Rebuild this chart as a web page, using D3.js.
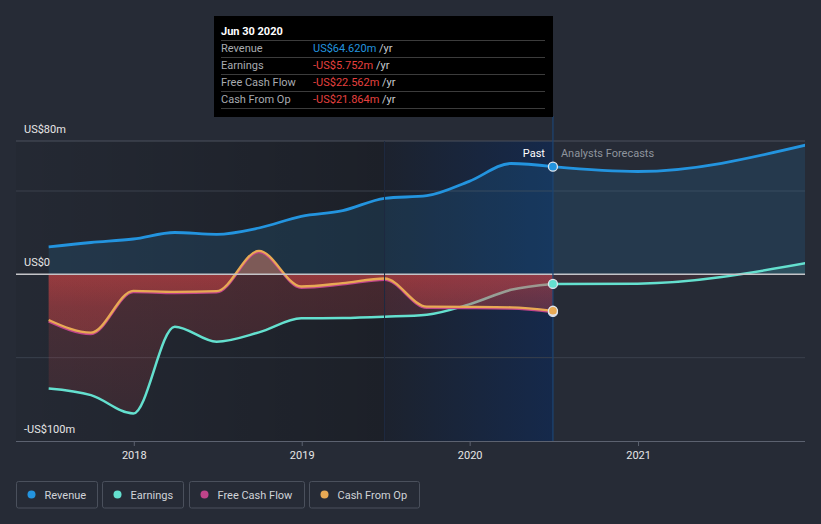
<!DOCTYPE html>
<html><head><meta charset="utf-8">
<script src="https://cdn.jsdelivr.net/npm/d3@7"></script>
<style>
html,body{margin:0;padding:0;background:#262b36;}
svg{display:block;font-family:Roboto,"Noto Sans",sans-serif;}
</style></head>
<body>
<svg id="chart" width="821" height="524"></svg>
<script>
// ---------- DATA ----------
const pastDates = ["2017-06-30","2017-09-30","2017-12-31","2018-03-31","2018-06-30","2018-09-30","2018-12-31","2019-03-31","2019-06-30","2019-09-30","2019-12-31","2020-03-31","2020-06-30"];
const revenuePast  = [16.4, 19.1, 21.2, 25.1, 24.0, 27.8, 34.8, 38.2, 45.6, 47.2, 55.8, 66.5, 64.62];
const earningsPast = [-68.5, -72.5, -83.5, -31.4, -40.4, -34.8, -26.4, -26.2, -25.4, -24.2, -18.0, -9.3, -5.752];
const fcfPast      = [-28.2, -35.8, -10.6, -11.2, -10.8, 13.4, -8.0, -6.0, -3.2, -20.1, -20.2, -20.5, -22.562];
const cfoPast      = [-27.4, -35.0, -9.9, -10.5, -10.1, 14.1, -7.3, -5.3, -2.5, -19.4, -19.5, -19.8, -21.864];
const forecastDates    = ["2020-06-30","2020-12-31","2021-12-31"];
const revenueForecast  = [64.62, 61.7, 77.5];
const earningsForecast = [-5.752, -5.6, 6.7];
const yGridValues = [80, 50, -50];
const yLabelValues = [80, 0, -100];
const yLabelTexts = ["US$80m", "US$0", "-US$100m"];
const xTickYears = ["2018","2019","2020","2021"];
const seriesNames  = ["Revenue","Earnings","Free Cash Flow","Cash From Op"];
const seriesColors = ["#2394df","#64e0cf","#c0448a","#e8a954"];
const tooltipTitle = "Jun 30 2020";
const tooltipValues = ["US$64.620m","-US$5.752m","-US$22.562m","-US$21.864m"];
const pastStart = "2019-06-30", pastEnd = "2020-06-30";

// ---------- SETUP ----------
const parse = d3.timeParse("%Y-%m-%d");
const svg = d3.select("#chart");
const L = 16, R = 805, T = 141, B = 441;
const x = d3.scaleTime().domain([parse("2017-04-20"), parse("2022-01-01")]).range([16, 806]);
const y = d3.scaleLinear().domain([-100, 80]).range([B, T]);
const y0 = y(0);

const defs = svg.append("defs");
function linGrad(id, x1, y1, x2, y2, stops) {
  const g = defs.append("linearGradient").attr("id", id).attr("gradientUnits", "userSpaceOnUse")
    .attr("x1", x1).attr("y1", y1).attr("x2", x2).attr("y2", y2);
  stops.forEach(s => g.append("stop").attr("offset", s[0]).attr("stop-color", s[1]).attr("stop-opacity", s[2]));
}
const xPS = x(parse(pastStart)), xPE = x(parse(pastEnd));
linGrad("pastShade", L, 0, xPS, 0, [[0, "#000", 0.05], [1, "#000", 0.26]]);
linGrad("band", xPS, 0, xPE, 0, [[0, "#1c222e", 1], [1, "#15294b", 1]]);
linGrad("redE", 0, y0, 0, B, [[0, "rgb(221,70,71)", 0.22], [1, "rgb(221,70,71)", 0.10]]);
linGrad("redC", 0, y0, 0, B, [[0, "rgb(221,70,71)", 0.30], [0.2, "rgb(221,70,71)", 0.2], [1, "rgb(221,70,71)", 0.08]]);
linGrad("redF", 0, y0, 0, B, [[0, "rgb(221,70,71)", 0.12], [1, "rgb(221,70,71)", 0.05]]);
defs.append("clipPath").attr("id", "cPos").append("rect").attr("x", L).attr("y", 0).attr("width", R - L).attr("height", y0);
defs.append("clipPath").attr("id", "cNeg").append("rect").attr("x", L).attr("y", y0).attr("width", R - L).attr("height", 524 - y0);
defs.append("clipPath").attr("id", "cPlot").append("rect").attr("x", L).attr("y", 0).attr("width", R - L).attr("height", 524);

// backgrounds
svg.append("rect").attr("width", 821).attr("height", 524).attr("fill", "#262b36");
svg.append("rect").attr("x", L).attr("y", T).attr("width", xPS - L).attr("height", B - T).attr("fill", "url(#pastShade)");
svg.append("rect").attr("x", xPS).attr("y", T).attr("width", xPE - xPS).attr("height", B - T).attr("fill", "url(#band)");

// gridlines
svg.append("line").attr("x1", L).attr("x2", R).attr("y1", y(80)).attr("y2", y(80)).attr("stroke", "#4b505c").attr("stroke-width", 1);
yGridValues.slice(1).forEach(v => {
  svg.append("line").attr("x1", L).attr("x2", R).attr("y1", y(v)).attr("y2", y(v)).attr("stroke", "#3a404c").attr("stroke-width", 1);
});

// axis
const xAxis = d3.axisBottom(x).tickValues(xTickYears.map(s => parse(s + "-01-01"))).tickFormat(d3.timeFormat("%Y")).tickSize(5).tickPadding(5);
const gx = svg.append("g").attr("transform", `translate(0,${B})`).call(xAxis);
gx.select(".domain").attr("d", `M${L},0.5H${R}`).attr("stroke", "#5c6270");
gx.selectAll(".tick line").attr("stroke", "#5c6270");
gx.selectAll(".tick text").attr("fill", "#e6e6e6").attr("font-size", 11).attr("font-family", "Roboto,sans-serif");

const toPts = (dates, vals) => dates.map((d, i) => ({ d: parse(d), v: vals[i] }));
const revP = toPts(pastDates, revenuePast), earP = toPts(pastDates, earningsPast),
      fcfP = toPts(pastDates, fcfPast), cfoP = toPts(pastDates, cfoPast),
      revF = toPts(forecastDates, revenueForecast), earF = toPts(forecastDates, earningsForecast);

const line = d3.line().x(p => x(p.d)).y(p => y(p.v)).curve(d3.curveMonotoneX);
const area = d3.area().x(p => x(p.d)).y0(y0).y1(p => y(p.v)).curve(d3.curveMonotoneX);
const plot = svg.append("g").attr("clip-path", "url(#cPlot)");

function signedArea(pts, posFill, negFill) {
  plot.append("g").attr("clip-path", "url(#cPos)").append("path").attr("d", area(pts)).attr("fill", posFill);
  plot.append("g").attr("clip-path", "url(#cNeg)").append("path").attr("d", area(pts)).attr("fill", negFill);
}
// revenue fill
plot.append("path").attr("d", area(revP)).attr("fill", "rgba(35,148,223,0.14)");
plot.append("path").attr("d", area(revF)).attr("fill", "rgba(35,148,223,0.14)");
// earnings fill + line
signedArea(earP, "rgba(100,224,207,0.14)", "url(#redE)");
signedArea(earF, "rgba(100,224,207,0.14)", "url(#redF)");
plot.append("path").attr("d", line(earP)).attr("fill", "none").attr("stroke", seriesColors[1]).attr("stroke-width", 2.5);
plot.append("path").attr("d", line(earF)).attr("fill", "none").attr("stroke", seriesColors[1]).attr("stroke-width", 2.5);
// cash flow fills
signedArea(fcfP, "rgba(192,68,138,0.3)", "url(#redC)");
signedArea(cfoP, "rgba(232,169,84,0.3)", "url(#redC)");
// zero line
svg.append("line").attr("x1", L).attr("x2", R).attr("y1", y0).attr("y2", y0).attr("stroke", "#c4c4c8").attr("stroke-width", 1.5);
// lines
plot.append("path").attr("d", line(fcfP)).attr("fill", "none").attr("stroke", seriesColors[2]).attr("stroke-width", 2.5);
plot.append("path").attr("d", line(cfoP)).attr("fill", "none").attr("stroke", seriesColors[3]).attr("stroke-width", 2.3);
plot.append("path").attr("d", line(revP)).attr("fill", "none").attr("stroke", seriesColors[0]).attr("stroke-width", 2.8);
plot.append("path").attr("d", line(revF)).attr("fill", "none").attr("stroke", seriesColors[0]).attr("stroke-width", 2.8);

// vertical lines
svg.append("line").attr("x1", xPS).attr("x2", xPS).attr("y1", T).attr("y2", B).attr("stroke", "#1d2a40").attr("stroke-width", 1);
svg.append("line").attr("x1", xPE).attr("x2", xPE).attr("y1", 116).attr("y2", B).attr("stroke", "#1c4574").attr("stroke-width", 1.2);

// markers
const lastP = [revP, earP, fcfP, cfoP].map(a => a[a.length - 1]);
[1, 2, 3, 0].forEach(i => {
  svg.append("circle").attr("cx", x(lastP[i].d)).attr("cy", y(lastP[i].v)).attr("r", 4.5)
    .attr("fill", seriesColors[i]).attr("stroke", "#dfe6ee").attr("stroke-width", 1.3);
});

// past / forecast labels
svg.append("text").attr("x", xPE - 8).attr("y", 157).attr("text-anchor", "end").attr("fill", "#ffffff").attr("font-size", 11).text("Past");
svg.append("text").attr("x", xPE + 8).attr("y", 157).attr("fill", "#8e949d").attr("font-size", 11).text("Analysts Forecasts");

// y labels
yLabelValues.forEach((v, i) => {
  svg.append("text").attr("x", 24).attr("y", y(v) - 8).attr("fill", "#e6e6e6").attr("font-size", 11).text(yLabelTexts[i]);
});

// tooltip
const tt = svg.append("g");
tt.append("rect").attr("x", 214).attr("y", 16).attr("width", 339).attr("height", 101).attr("fill", "#000");
tt.append("text").attr("x", 221).attr("y", 35).attr("fill", "#fff").attr("font-size", 11).attr("font-weight", "bold").text(tooltipTitle);
seriesNames.forEach((n, i) => {
  const ly = 40.5 + i * 17;
  tt.append("line").attr("x1", 221).attr("x2", 545).attr("y1", ly).attr("y2", ly).attr("stroke", "#3c3c3c").attr("stroke-width", 1);
  const t = tt.append("text").attr("x", 221).attr("y", ly + 11.5).attr("font-size", 11);
  t.append("tspan").attr("fill", "#a8abb0").text(n);
  const v = tt.append("text").attr("x", 313).attr("y", ly + 11.5).attr("font-size", 11);
  v.append("tspan").attr("fill", i === 0 ? "#2394df" : "#e5403f").text(tooltipValues[i]);
  v.append("tspan").attr("fill", "#c8cbd0").text(" /yr");
});
tt.append("line").attr("x1", 221).attr("x2", 545).attr("y1", 108.5).attr("y2", 108.5).attr("stroke", "#3c3c3c").attr("stroke-width", 1);

// legend
const legX = [16.5, 102.5, 189.5, 309.5], legW = [81, 81, 115, 110];
seriesNames.forEach((n, i) => {
  const g = svg.append("g").attr("transform", `translate(${legX[i]},481.5)`);
  g.append("rect").attr("width", legW[i]).attr("height", 26.5).attr("rx", 2).attr("fill", "none").attr("stroke", "#4a505c").attr("stroke-width", 1);
  g.append("circle").attr("cx", 15).attr("cy", 13).attr("r", 4).attr("fill", seriesColors[i]);
  g.append("text").attr("x", 28).attr("y", 17).attr("fill", "#d0d3d8").attr("font-size", 11).text(n);
});
</script>
</body></html>
